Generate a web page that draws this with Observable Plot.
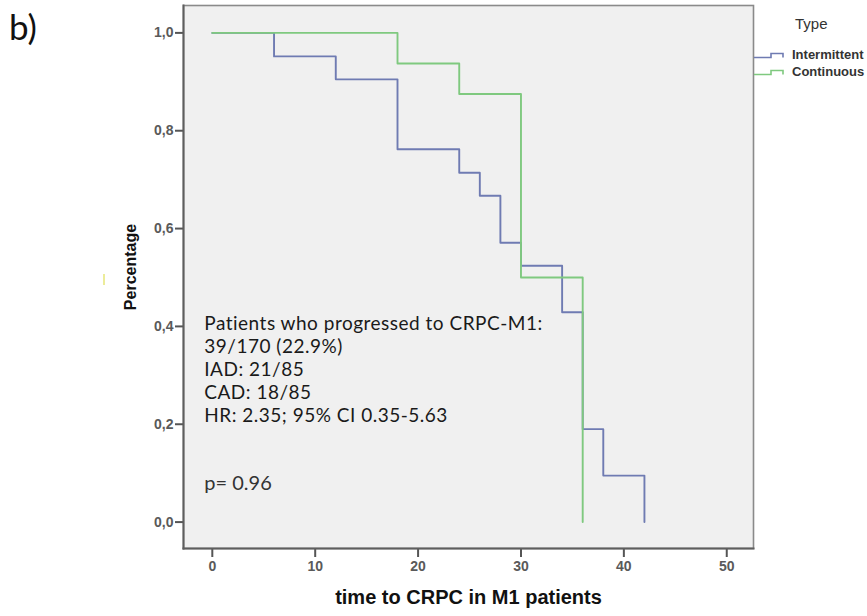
<!DOCTYPE html>
<html>
<head>
<meta charset="utf-8">
<script src="https://cdn.jsdelivr.net/npm/d3@7"></script>
<script src="https://cdn.jsdelivr.net/npm/@observablehq/plot@0.6"></script>
<style>
  body { margin: 0; background: #fff; }
  #wrap { position: relative; width: 867px; height: 616px; overflow: hidden; font-family: "Liberation Sans", Arial, sans-serif; }
  #wrap svg.plot { position: absolute; left: 0; top: 0; }
  .annot text, text.annot { letter-spacing: 0.5px; }
  .panel { position: absolute; left: 9px; top: 4px; font-family: Lato, "Open Sans", sans-serif; font-size: 35px; line-height: 44px; color: #111; }
  .legend-title { position: absolute; left: 795px; top: 15px; font-size: 15px; color: #333; }
  .legend-row { position: absolute; left: 752px; height: 16px; display: flex; align-items: center; font-size: 13px; font-weight: bold; color: #333; white-space: nowrap; }
  .legend-row svg { margin-right: 7px; }
  .speck { position: absolute; left: 103px; top: 274px; width: 2px; height: 11px; background: #ecec9a; }
</style>
</head>
<body>
<div id="wrap"></div>
<script>
// Kaplan–Meier steps (time in months, cumulative proportion without CRPC)
const intermittentTime = [0, 6, 12, 18, 24, 26, 28, 30, 34, 36, 38, 42];
const intermittentSurv = [1, 0.952, 0.905, 0.762, 0.714, 0.667, 0.571, 0.524, 0.429, 0.190, 0.095, 0];
const continuousTime = [0, 18, 24, 30, 36];
const continuousSurv = [1, 0.9375, 0.875, 0.5, 0];

const seriesNames = ["Intermittent", "Continuous"];
const seriesColors = ["#6f7bb2", "#7fc97f"];

const xTicks = [0, 10, 20, 30, 40, 50];
const yTicks = [0, 0.2, 0.4, 0.6, 0.8, 1.0];

const xLabel = "time to CRPC in M1 patients";
const yLabel = "Percentage";
const legendTitle = "Type";
const panelLabel = "b)";
const annotationLines = [
  "Patients who progressed to CRPC-M1:",
  "39/170 (22.9%)",
  "IAD: 21/85",
  "CAD: 18/85",
  "HR: 2.35; 95% CI 0.35-5.63"
];
const pValueText = "p= 0.96";

const rows = [
  ...intermittentTime.map((t, i) => ({type: seriesNames[0], t, s: intermittentSurv[i]})),
  ...continuousTime.map((t, i) => ({type: seriesNames[1], t, s: continuousSurv[i]}))
];

const fmt = d => d.toFixed(1).replace(".", ",");

const chart = Plot.plot({
  width: 867,
  height: 616,
  marginLeft: 183,
  marginRight: 114,
  marginTop: 5,
  marginBottom: 68,
  style: {fontFamily: "Liberation Sans, Arial, sans-serif", fontSize: "14px", color: "#555", background: "transparent"},
  x: {domain: [-2.8, 52.6]},
  y: {domain: [-0.054, 1.056]},
  color: {domain: seriesNames, range: seriesColors},
  marks: [
    Plot.frame({fill: "#f0f0f0", stroke: "#8a8a8a", strokeWidth: 1.6}),
    Plot.axisX({ticks: xTicks, tickSize: 9, tickPadding: 4, tickFormat: d => String(d), label: null, strokeWidth: 2, fontSize: 14, fontWeight: "bold", fill: "#5a5a5a"}),
    Plot.axisY({ticks: yTicks, tickSize: 8, tickPadding: 2, tickFormat: fmt, label: null, strokeWidth: 2, fontSize: 14, fontWeight: "bold", fill: "#5a5a5a"}),
    Plot.frame({anchor: "left", stroke: "#5e5e5e", strokeWidth: 2}),
    Plot.frame({anchor: "bottom", stroke: "#5e5e5e", strokeWidth: 2}),
    Plot.line(rows, {x: "t", y: "s", z: "type", stroke: "type", curve: "step-after", strokeWidth: 1.9}),
    Plot.text([annotationLines.join("\n")], {
      x: -0.78, y: 0.4264, text: d => d, textAnchor: "start", lineAnchor: "top",
      lineHeight: 1.21, fontSize: 19, fontFamily: "Lato, sans-serif", fill: "#1a1a1a", className: "annot"
    }),
    Plot.text([pValueText], {
      x: -0.78, y: 0.0646, text: d => d, textAnchor: "start", lineAnchor: "bottom",
      fontSize: 20, fontFamily: "Lato, sans-serif", fill: "#333"
    }),
    Plot.text([xLabel], {frameAnchor: "bottom", textAnchor: "middle", dy: 55, text: d => d, fontSize: 20, fontWeight: "bold", fill: "#111"}),
    Plot.text([yLabel], {frameAnchor: "left", textAnchor: "middle", dx: -53, dy: -10, rotate: -90, text: d => d, fontSize: 16, fontWeight: "bold", fill: "#111"})
  ]
});
chart.classList.add("plot");

const wrap = document.getElementById("wrap");
wrap.appendChild(chart);

const panel = document.createElement("div");
panel.className = "panel";
panel.textContent = panelLabel;
wrap.appendChild(panel);

const speck = document.createElement("div");
speck.className = "speck";
wrap.appendChild(speck);

const title = document.createElement("div");
title.className = "legend-title";
title.textContent = legendTitle;
wrap.appendChild(title);

seriesNames.forEach((name, i) => {
  const row = document.createElement("div");
  row.className = "legend-row";
  row.style.top = (46 + i * 17) + "px";
  row.innerHTML = `<svg width="33" height="10"><path d="M2,8.5H19V4.5H31V8.5" fill="none" stroke="${seriesColors[i]}" stroke-width="1.6"/></svg><span>${name}</span>`;
  wrap.appendChild(row);
});
</script>
</body>
</html>
